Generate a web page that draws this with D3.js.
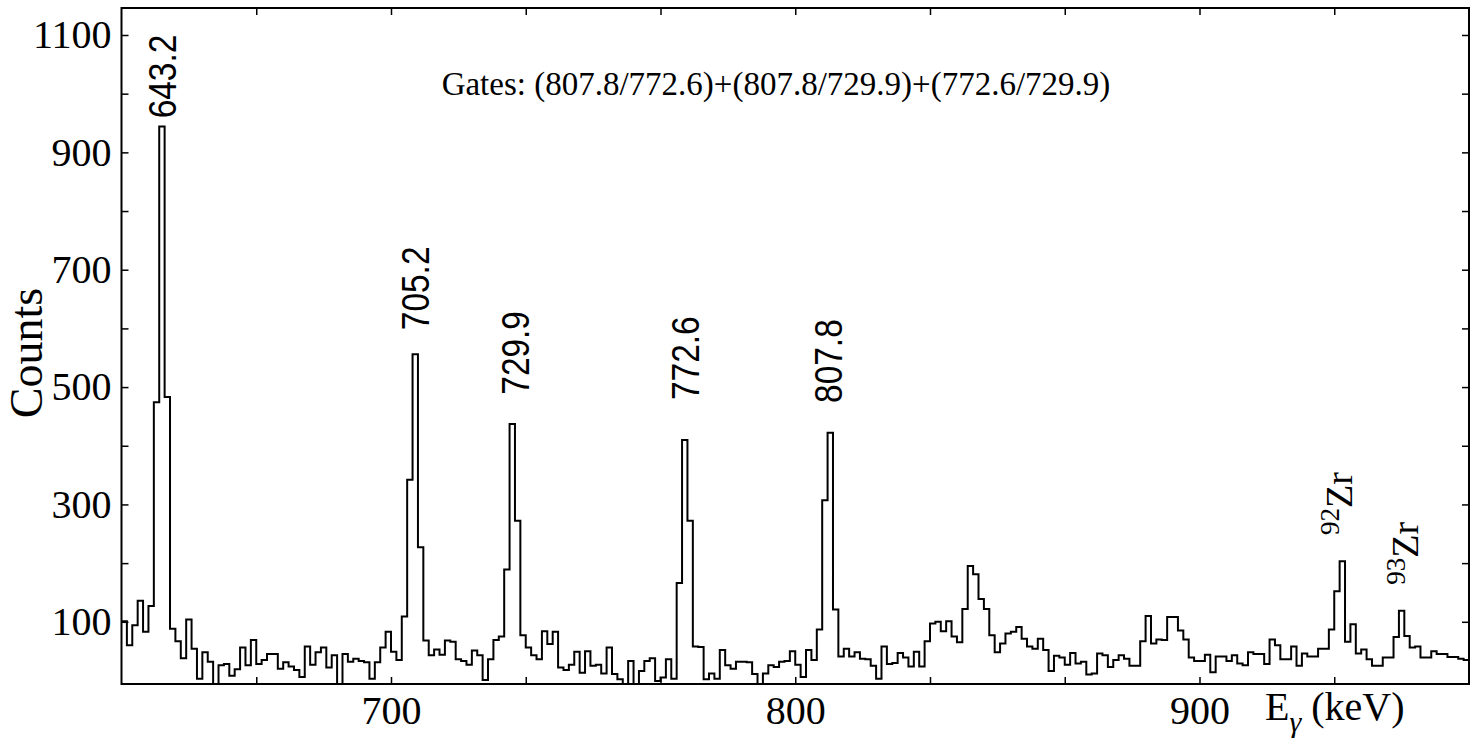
<!DOCTYPE html>
<html>
<head>
<meta charset="utf-8">
<script src="https://cdn.jsdelivr.net/npm/d3@7.9.0/dist/d3.min.js"></script>
<style>
  body { margin: 0; background: #fff; }
</style>
</head>
<body>
<div id="chart"></div>
<script>
// histogram bins (keV), 250 bins of 4/3 keV
const binLo = 633.333;
const binWidth = 1.33333;
const counts = [
  101, 60, 94, 136, 83, 127, 474, 944, 483, 88,
  67, 38, 104, 54, 3, 48, 32, -7, 26, 28,
  8, 19, 56, 26, 69, 28, 35, 45, 45, 20,
  31, 24, 18, 6, 58, 27, 48, 56, 22, 43,
  -7, 45, 32, 37, 33, 31, 3, 31, 56, 83,
  49, 35, 109, 342, 556, 227, 68, 43, 53, 44,
  68, 66, 36, 33, 27, 51, 43, 1, 36, 69,
  75, 189, 437, 272, 77, 56, 43, 36, 84, 62,
  83, 22, 18, 27, 49, 13, 50, 25, 27, 12,
  56, 11, 2, -7, 33, -7, 16, 33, 38, -1,
  5, 36, 3, 166, 410, 272, 58, 57, 2, 12,
  3, 52, 26, 20, 32, 32, 31, 11, -7, 12,
  26, 23, 32, 33, 50, 27, 6, 52, 35, 87,
  307, 422, 121, 41, 54, 41, 48, 37, 36, 25,
  3, 58, 28, 30, 47, 39, 24, 49, 24, 67,
  97, 100, 84, 101, 75, 65, 122, 195, 181, 139,
  122, 77, 48, 63, 80, 83, 91, 71, 58, 54,
  71, 52, 16, 42, 39, 27, 47, 29, 32, 10,
  12, 46, 43, 23, 35, 43, 37, 25, 25, 67,
  110, 63, 70, 69, 108, 108, 85, 70, 39, 33,
  33, 44, 14, 41, 41, 33, 43, 29, 26, 48,
  45, 45, 28, 70, 60, 36, 36, 58, 25, 46,
  41, 41, 54, 54, 87, 152, 203, 66, 96, 46,
  53, 36, 25, 25, 39, 39, 74, 119, 76, 56,
  58, 39, 39, 50, 45, 45, 40, 40, 37, 35
];

// axes
const xDomain = [633.333, 966.667];
const yDomain = [-6, 1146];
const xTicks = [666.667, 700, 733.333, 766.667, 800, 833.333, 866.667, 900, 933.333];
const xLabels = [700, 800, 900];
const yTicks = [100, 200, 300, 400, 500, 600, 700, 800, 900, 1000, 1100];
const yLabels = [100, 300, 500, 700, 900, 1100];

// peak annotations (label centre in keV, label foot in counts)
const peakNames = ["643.2", "705.2", "729.9", "772.6", "807.8"];
const peakLabelE = [643.4, 706.0, 730.8, 772.9, 808.3];
const peakLabelC = [958, 597, 487, 478, 473];

const zrMass = ["92", "93"];
const zrLabelE = [933.8, 950.1];
const zrLabelC = [248, 163];

const gatesText = "Gates: (807.8/772.6)+(807.8/729.9)+(772.6/729.9)";

const width = 1484, height = 742;
const margin = { top: 8, right: 15, bottom: 58, left: 121.5 };
const innerW = width - margin.left - margin.right;
const innerH = height - margin.top - margin.bottom;
const serif = "'Liberation Serif', 'DejaVu Serif', serif";
const sans = "'Liberation Sans', Arial, sans-serif";

const svg = d3.select("#chart").append("svg")
  .attr("width", width)
  .attr("height", height);

const g = svg.append("g")
  .attr("transform", `translate(${margin.left}, ${margin.top})`);

const x = d3.scaleLinear().domain(xDomain).range([0, innerW]);
const y = d3.scaleLinear().domain(yDomain).range([innerH, 0]).clamp(true);

// ticks point inward on all four sides
function styleAxis(sel) {
  sel.select(".domain").remove();
  sel.attr("font-family", serif).attr("font-size", 40);
  sel.selectAll(".tick line").attr("stroke", "#000").attr("stroke-width", 1.5);
  sel.selectAll(".tick text").attr("fill", "#000");
}

g.append("g")
  .attr("transform", `translate(0, ${innerH})`)
  .call(d3.axisBottom(x).tickValues(xTicks).tickSize(-7).tickPadding(12)
    .tickFormat(d => xLabels.includes(d) ? d : ""))
  .call(styleAxis);

g.append("g")
  .call(d3.axisTop(x).tickValues(xTicks).tickSize(-7).tickFormat(""))
  .call(styleAxis);

g.append("g")
  .call(d3.axisLeft(y).tickValues(yTicks).tickSize(-7).tickPadding(10)
    .tickFormat(d => yLabels.includes(d) ? d : ""))
  .call(styleAxis);

g.append("g")
  .attr("transform", `translate(${innerW}, 0)`)
  .call(d3.axisRight(y).tickValues(yTicks).tickSize(-7).tickFormat(""))
  .call(styleAxis);

// histogram as a step line
const pts = counts.map((c, i) => [binLo + i * binWidth, c]);
pts.push([binLo + counts.length * binWidth, counts[counts.length - 1]]);

const line = d3.line()
  .x(d => x(d[0]))
  .y(d => y(d[1]))
  .curve(d3.curveStepAfter);

g.append("path")
  .datum(pts)
  .attr("fill", "none")
  .attr("stroke", "#000")
  .attr("stroke-width", 2)
  .attr("d", line);

// frame
g.append("rect")
  .attr("width", innerW)
  .attr("height", innerH)
  .attr("fill", "none")
  .attr("stroke", "#000")
  .attr("stroke-width", 2);

// peak energy labels, rotated, slightly narrow face
peakNames.forEach((name, i) => {
  g.append("text")
    .attr("transform", `translate(${x(peakLabelE[i]) + 13.5}, ${y(peakLabelC[i])}) rotate(-90) scale(0.88, 1)`)
    .attr("font-family", sans)
    .attr("font-size", 38)
    .attr("text-anchor", "start")
    .text(name);
});

// Zr contaminant labels with superscript mass number
zrMass.forEach((m, i) => {
  const t = g.append("text")
    .attr("transform", `translate(${x(zrLabelE[i]) + 16}, ${y(zrLabelC[i])}) rotate(-90)`)
    .attr("font-family", serif)
    .attr("text-anchor", "start");
  t.append("tspan").attr("font-size", 27).attr("dy", -13).text(m);
  t.append("tspan").attr("font-size", 38).attr("dy", 13).text("Zr");
});

// gate note
g.append("text")
  .attr("x", 776 - margin.left)
  .attr("y", 95 - margin.top)
  .attr("font-family", serif)
  .attr("font-size", 33)
  .attr("text-anchor", "middle")
  .text(gatesText);

// axis titles
svg.append("text")
  .attr("transform", `translate(42, 353) rotate(-90)`)
  .attr("font-family", serif)
  .attr("font-size", 46)
  .attr("text-anchor", "middle")
  .text("Counts");

const xt = svg.append("text")
  .attr("x", 1265)
  .attr("y", 720)
  .attr("font-family", serif)
  .attr("font-size", 40);
xt.append("tspan").text("E");
xt.append("tspan").attr("font-size", 30).attr("font-style", "italic").attr("dy", 12).text("γ");
xt.append("tspan").attr("dy", -12).text(" (keV)");
</script>
</body>
</html>
